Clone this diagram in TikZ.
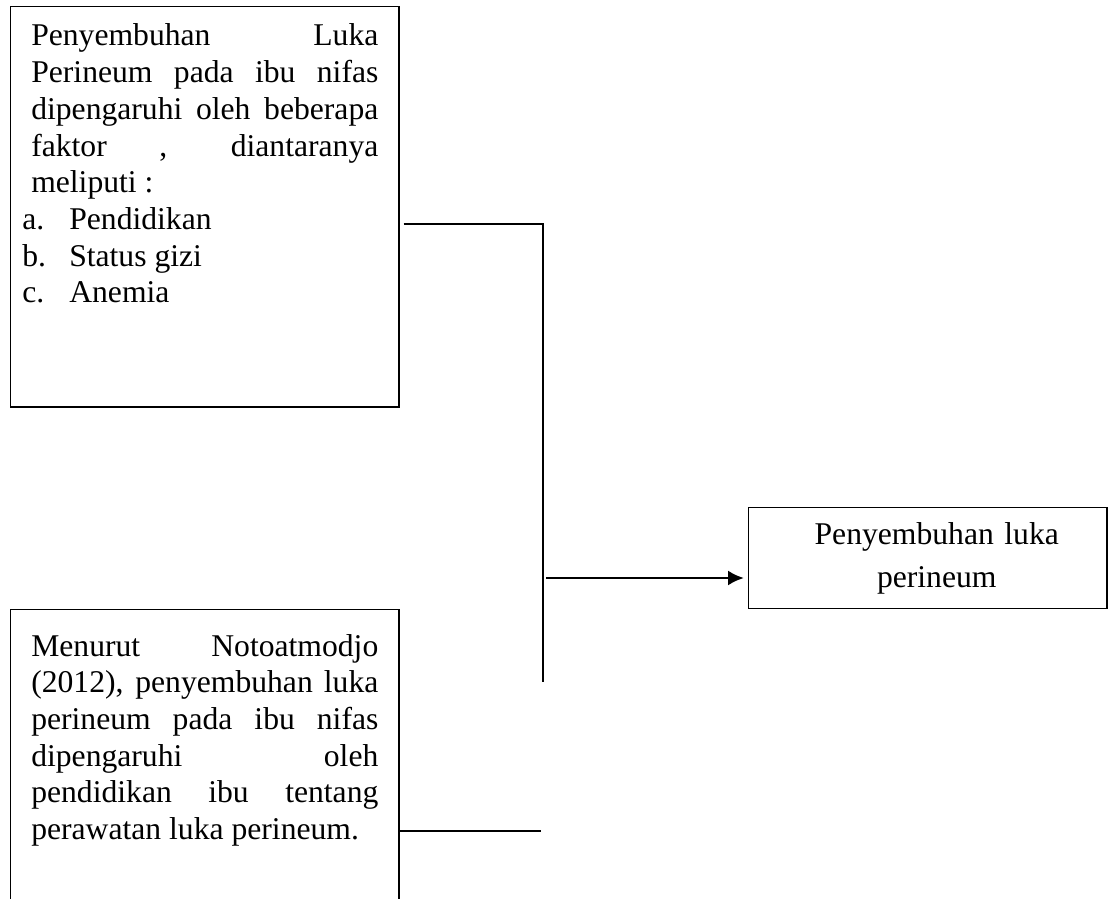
\documentclass[tikz,border=0pt]{standalone}
\usepackage{fontspec}
\setmainfont{Liberation Serif}
\usetikzlibrary{positioning,arrows.meta}
\tolerance=9999
\hbadness=10000
\hyphenpenalty=10000

\tikzset{
  kotak/.style={draw=black, line width=1pt, inner sep=0pt},
  isi/.style={text width=8.675cm, align=justify, inner sep=0pt, anchor=base west,
    font=\fontsize{22.5}{26.1}\selectfont},
  garis/.style={draw=black, line width=1pt},
  panah/.style={draw=black, line width=2.1pt, -{Latex[length=0.4cm,width=0.38cm]}, shorten >=0.1cm},
}
\newcommand{\butir}[2]{\hspace*{-0.225cm}\makebox[1.175cm][l]{#1}#2\par}

\begin{document}
\begin{tikzpicture}[x=0.025cm, y=-0.025cm]
\useasboundingbox (0,0) rectangle (1112,899);
\clip (0,0) rectangle (1112,899);

% kotak kiri atas
\node[kotak, anchor=north west, minimum width=9.7cm, minimum height=10cm] (faktor) at (10,6) {};
\node[isi] (faktorisi) at (31,46) {Penyembuhan Luka\linebreak Perineum pada ibu nifas\linebreak dipengaruhi oleh beberapa\linebreak faktor , diantaranya\linebreak meliputi :\par
\butir{a.}{Pendidikan}\butir{b.}{Status gizi}\butir{c.}{Anemia}};

% kotak kiri bawah
\node[kotak, anchor=north west, minimum width=9.7cm, minimum height=7.6cm] (teori) at (10,609) {};
\node[isi] (teoriisi) at (31,656) {Menurut Notoatmodjo\linebreak (2012), penyembuhan luka\linebreak perineum pada ibu nifas\linebreak dipengaruhi oleh\linebreak pendidikan ibu tentang\linebreak perawatan luka perineum.};

% kotak kanan
\node[kotak, anchor=north west, minimum width=8.95cm, minimum height=2.525cm, text width=8.5cm, align=center,
  font=\fontsize{22.5}{30.5}\selectfont] (hasil) at (748,507) {\hspace*{0.45cm}Penyembuhan luka\\\hspace*{0.45cm}perineum};

% garis penghubung
\coordinate (sudut) at (543,224);
\coordinate (bawah) at (543,682);
\coordinate (cabang) at (546,578);
\coordinate (ujung) at (541,831);
\draw[garis] (faktor.east |- sudut) ++(4,0) -- (sudut) -- (bawah);
\draw[panah] (cabang) -- (hasil.west |- cabang);
\draw[garis] (teori.east |- ujung) -- (ujung);
\end{tikzpicture}
\end{document}
